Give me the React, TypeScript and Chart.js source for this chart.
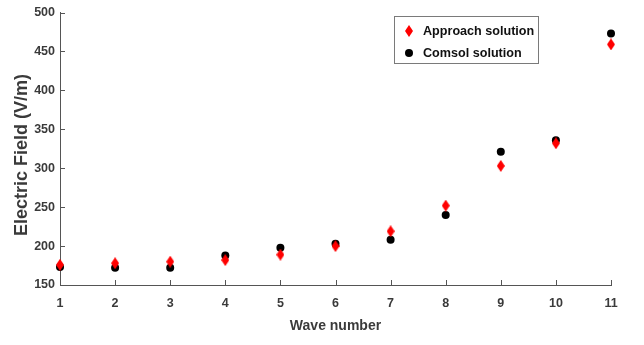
import React, { useEffect, useRef } from "react";
import { Chart, registerables } from "chart.js";

Chart.register(...registerables);

const waveNumbers = [1, 2, 3, 4, 5, 6, 7, 8, 9, 10, 11];
const approachValues = [176, 178, 180, 182, 189, 200, 219, 252, 303, 332, 459];
const comsolValues = [173, 172, 172, 188, 198, 203, 208, 240, 321, 336, 473];
const seriesNames = ["Approach solution", "Comsol solution"];
const xTitle = "Wave number";
const yTitle = "Electric Field (V/m)";

const FONT = "'Liberation Sans', Arial, sans-serif";
const TEXT = "#3a3a3a";
const AXIS = "#555555";

function makeDiamond(): HTMLCanvasElement {
  const c = document.createElement("canvas");
  c.width = 8;
  c.height = 12;
  const g = c.getContext("2d")!;
  g.fillStyle = "#ff0000";
  g.beginPath();
  g.moveTo(4, 0);
  g.lineTo(8, 6);
  g.lineTo(4, 12);
  g.lineTo(0, 6);
  g.closePath();
  g.fill();
  return c;
}

const inwardTicks = {
  id: "inwardTicks",
  afterDatasetsDraw(chart: any) {
    const { ctx, scales } = chart;
    const x = scales.x;
    const y = scales.y;
    ctx.save();
    ctx.strokeStyle = AXIS;
    ctx.lineWidth = 1;
    ctx.beginPath();
    x.ticks.forEach((t: any) => {
      const px = Math.round(x.getPixelForValue(t.value)) + 0.5;
      ctx.moveTo(px, y.bottom);
      ctx.lineTo(px, y.bottom - 5);
    });
    y.ticks.forEach((t: any) => {
      const py = Math.round(y.getPixelForValue(t.value)) + 0.5;
      ctx.moveTo(x.left, py);
      ctx.lineTo(x.left + 5, py);
    });
    ctx.stroke();
    ctx.restore();
  },
};

const yTitlePlugin = {
  id: "yTitlePlugin",
  afterDraw(chart: any) {
    const { ctx } = chart;
    ctx.save();
    ctx.translate(22, 155);
    ctx.rotate(-Math.PI / 2);
    ctx.font = `bold 18px ${FONT}`;
    ctx.fillStyle = TEXT;
    ctx.textAlign = "center";
    ctx.textBaseline = "middle";
    ctx.fillText(yTitle, 0, 0);
    ctx.restore();
  },
};

const boxLegend = {
  id: "boxLegend",
  afterDraw(chart: any) {
    const { ctx } = chart;
    const bx = 394.5, by = 16.5, bw = 144, bh = 47;
    ctx.save();
    ctx.fillStyle = "#ffffff";
    ctx.fillRect(bx, by, bw, bh);
    ctx.strokeStyle = "#7a7a7a";
    ctx.lineWidth = 1;
    ctx.strokeRect(bx, by, bw, bh);
    ctx.font = `bold 12.6px ${FONT}`;
    ctx.textBaseline = "middle";
    ctx.textAlign = "left";
    const rows = [31, 53];
    chart.data.datasets.forEach((ds: any, i: number) => {
      const cy = rows[i];
      if (i === 0) {
        ctx.drawImage(ds.pointStyle, 409 - 4, cy - 6);
      } else {
        ctx.fillStyle = "#000000";
        ctx.beginPath();
        ctx.arc(409, cy, 4, 0, Math.PI * 2);
        ctx.fill();
      }
      ctx.fillStyle = "#111111";
      ctx.fillText(ds.label, 423, cy + 1);
    });
    ctx.restore();
  },
};

export default function App() {
  const ref = useRef<HTMLCanvasElement>(null);

  useEffect(() => {
    document.body.style.margin = "0";
    const diamond = makeDiamond();
    const chart = new Chart(ref.current!, {
      type: "scatter",
      data: {
        datasets: [
          {
            label: seriesNames[0],
            data: waveNumbers.map((x, i) => ({ x, y: approachValues[i] })),
            pointStyle: diamond as any,
            backgroundColor: "#ff0000",
            borderColor: "#ff0000",
            clip: false as any,
          },
          {
            label: seriesNames[1],
            data: waveNumbers.map((x, i) => ({ x, y: comsolValues[i] })),
            pointStyle: "circle",
            pointRadius: 4,
            backgroundColor: "#000000",
            borderColor: "#000000",
            borderWidth: 0,
            clip: false as any,
          },
        ],
      },
      options: {
        animation: false,
        responsive: false,
        maintainAspectRatio: false,
        layout: { padding: { top: 7, right: 33, left: 0, bottom: 0 } },
        plugins: { legend: { display: false }, tooltip: { enabled: false } },
        scales: {
          x: {
            type: "linear",
            min: 1,
            max: 11,
            afterFit: (s: any) => { s.height = 60; },
            grid: { display: true, drawOnChartArea: false, drawTicks: false },
            border: { display: true, color: AXIS, width: 1 },
            ticks: {
              stepSize: 1,
              padding: 11,
              color: TEXT,
              font: { family: FONT, size: 12.5, weight: "bold" },
            },
            title: {
              display: true,
              text: xTitle,
              color: TEXT,
              font: { family: FONT, size: 14, weight: "bold" },
              padding: { top: 0, bottom: 10 },
            },
          },
          y: {
            type: "linear",
            min: 150,
            max: 500,
            afterFit: (s: any) => { s.width = 60; },
            grid: { display: true, drawOnChartArea: false, drawTicks: false },
            border: { display: true, color: AXIS, width: 1 },
            ticks: {
              stepSize: 50,
              padding: 5,
              color: TEXT,
              font: { family: FONT, size: 12.5, weight: "bold" },
            },
            title: { display: false },
          },
        },
      },
      plugins: [inwardTicks, yTitlePlugin, boxLegend],
    });
    return () => chart.destroy();
  }, []);

  return (
    <div style={{ position: "absolute", left: 0, top: 0, width: 644, height: 345 }}>
      <canvas ref={ref} width={644} height={345} style={{ width: 644, height: 345 }} />
    </div>
  );
}
